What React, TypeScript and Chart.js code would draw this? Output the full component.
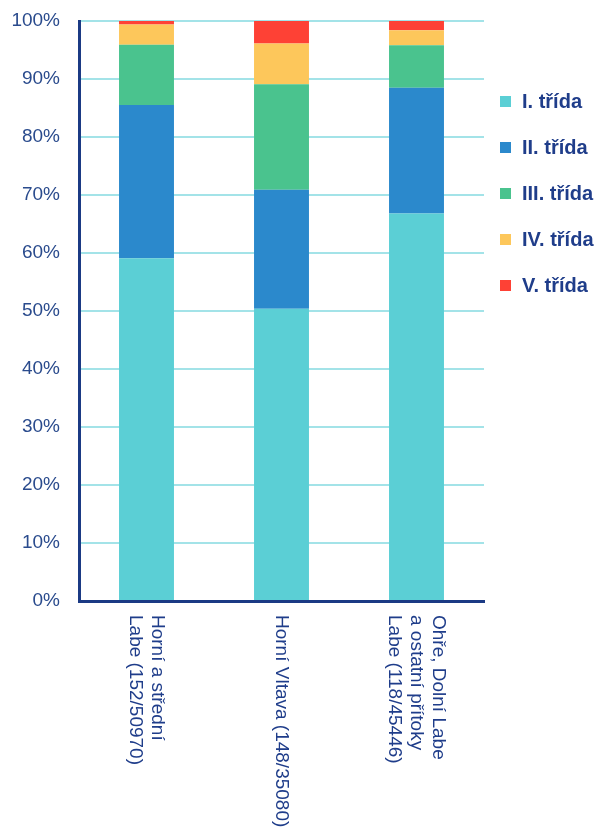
import React, { useEffect, useRef } from "react";
import { Chart, registerables } from "chart.js";

Chart.register(...registerables);

const categoryLines: string[][] = [
  ["Horní a střední", "Labe (152/50970)"],
  ["Horní Vltava (148/35080)"],
  ["Ohře, Dolní Labe", "a ostatní přítoky", "Labe (118/45446)"],
];

const seriesNames = ["I. třída", "II. třída", "III. třída", "IV. třída", "V. třída"];
const trida1 = [59.1, 50.4, 66.8];
const trida2 = [26.4, 20.5, 21.7];
const trida3 = [10.4, 18.2, 7.3];
const trida4 = [3.5, 7.0, 2.6];
const trida5 = [0.6, 3.9, 1.6];
const seriesColors = ["#5BCFD5", "#2B89CC", "#4AC38E", "#FDC75B", "#FE4135"];

const yTickValues = [0, 10, 20, 30, 40, 50, 60, 70, 80, 90, 100];

const FONT = "'Liberation Sans', Arial, sans-serif";
const NAVY = "#1F3D8A";

const rotatedXLabels = {
  id: "rotatedXLabels",
  afterDraw(chart: any) {
    const ctx = chart.ctx;
    const xScale = chart.scales.x;
    const top = chart.chartArea.bottom + 14;
    const lh = 22;
    ctx.save();
    ctx.fillStyle = NAVY;
    ctx.font = `19px ${FONT}`;
    ctx.textAlign = "left";
    ctx.textBaseline = "middle";
    categoryLines.forEach((lines, idx) => {
      const cx = xScale.getPixelForValue(idx);
      ctx.save();
      ctx.translate(cx, top);
      ctx.rotate(Math.PI / 2);
      const n = lines.length;
      lines.forEach((line, i) => {
        ctx.fillText(line, 0, (i - (n - 1) / 2) * lh);
      });
      ctx.restore();
    });
    ctx.restore();
  },
};

const customLegend = {
  id: "customLegend",
  afterDraw(chart: any) {
    const ctx = chart.ctx;
    const area = chart.chartArea;
    const x0 = area.right + 16;
    const y0 = area.top + 80;
    ctx.save();
    ctx.font = `bold 20px ${FONT}`;
    ctx.textAlign = "left";
    ctx.textBaseline = "middle";
    chart.data.datasets.forEach((ds: any, i: number) => {
      const y = y0 + i * 46;
      ctx.fillStyle = ds.backgroundColor;
      ctx.fillRect(x0, y - 5, 11, 11);
      ctx.fillStyle = NAVY;
      ctx.fillText(ds.label, x0 + 22, y + 1);
    });
    ctx.restore();
  },
};

export default function App() {
  const ref = useRef<HTMLCanvasElement | null>(null);
  useEffect(() => {
    if (!ref.current) return;
    const values = [trida1, trida2, trida3, trida4, trida5];
    const chart = new Chart(ref.current, {
      type: "bar",
      data: {
        labels: categoryLines.map((l) => l.join(" ")),
        datasets: values.map((v, i) => ({
          label: seriesNames[i],
          data: v,
          backgroundColor: seriesColors[i],
          borderWidth: 0,
          barPercentage: 0.407,
          categoryPercentage: 1,
        })),
      },
      options: {
        responsive: false,
        animation: false,
        layout: { padding: { left: 0, top: 21, right: 119, bottom: 227 } },
        plugins: {
          legend: { display: false },
          tooltip: { enabled: false },
        },
        scales: {
          x: {
            stacked: true,
            z: 1,
            grid: { display: false, drawTicks: false },
            ticks: { display: false },
            border: { display: true, color: "#1B3A84", width: 3 },
          },
          y: {
            stacked: true,
            min: 0,
            max: 100,
            afterFit: (scale: any) => {
              scale.width = 79;
            },
            afterBuildTicks: (scale: any) => {
              scale.ticks = yTickValues.map((v) => ({ value: v }));
            },
            ticks: {
              color: "#2A4B8D",
              font: { family: FONT, size: 19 },
              padding: 0,
              callback: (v: any) => `${v}%`,
            },
            grid: {
              color: "#A3E3E8",
              lineWidth: 2,
              drawTicks: true,
              tickLength: 19,
              tickColor: "rgba(0,0,0,0)",
            },
            border: { display: true, color: "#1B3A84", width: 3 },
          },
        },
      },
      plugins: [rotatedXLabels, customLegend],
    });
    return () => chart.destroy();
  }, []);
  return (
    <div style={{ position: "absolute", left: 0, top: 0, width: 603, height: 828 }}>
      <canvas ref={ref} width={603} height={828} style={{ width: 603, height: 828 }} />
    </div>
  );
}
